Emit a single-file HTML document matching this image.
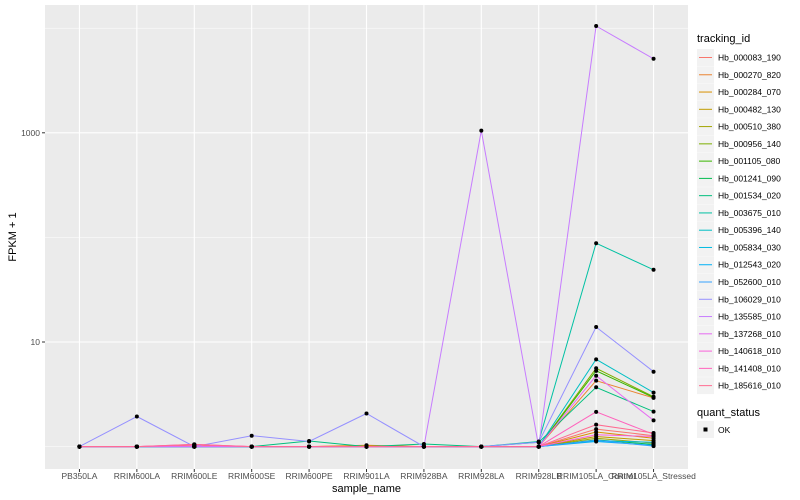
<!DOCTYPE html>
<html><head><meta charset="utf-8"><style>
body{margin:0;background:#fff;}
svg{display:block;font-family:"Liberation Sans",sans-serif;}
</style></head><body>
<svg id="chart" width="800" height="500"></svg>
<script>
const categories=["PB350LA","RRIM600LA","RRIM600LE","RRIM600SE","RRIM600PE","RRIM901LA","RRIM928BA","RRIM928LA","RRIM928LB","RRIM105LA_Control","RRIM105LA_Stressed"];
const seriesNames=["Hb_000083_190","Hb_000270_820","Hb_000284_070","Hb_000482_130","Hb_000510_380","Hb_000956_140","Hb_001105_080","Hb_001241_090","Hb_001534_020","Hb_003675_010","Hb_005396_140","Hb_005834_030","Hb_012543_020","Hb_052600_010","Hb_106029_010","Hb_135585_010","Hb_137268_010","Hb_140618_010","Hb_141408_010","Hb_185616_010"];
const seriesColors=["#F8766D","#EA8331","#D89000","#C09B00","#A3A500","#7CAE00","#39B600","#00BB4E","#00BF7D","#00C1A3","#00BFC4","#00BAE0","#00B0F6","#35A2FF","#9590FF","#C77CFF","#E76BF3","#FA62DB","#FF62BC","#FF6C91"];
const values=[
[1,1,1.03,1,1,1,1,1,1,1.47,1.27],
[1,1,1,1,1,1.03,1,1,1,4.27,2.92],
[1,1,1,1,1,1.02,1,1,1,1.38,1.2],
[1,1,1,1,1,1,1,1,1,1.25,1.14],
[1,1,1,1,1,1,1,1,1,1.2,1.08],
[1,1,1,1,1,1,1,1,1,5.61,3.0],
[1,1,1,1,1,1,1,1,1,5.3,2.95],
[1,1,1,1,1,1,1,1,1,1.16,1.05],
[1,1,1,1,1.13,1,1.06,1,1.1,3.69,2.16],
[1,1,1,1,1,1,1,1,1.12,88,49],
[1,1,1,1,1,1,1,1,1,6.83,3.28],
[1,1,1,1,1,1,1,1,1,1.14,1.1],
[1,1,1,1,1,1,1,1,1,1.12,1.03],
[1,1,1,1,1,1,1,1,1,1.15,1.01],
[1,1.94,1,1.27,1.12,2.07,1,1,1.1,13.9,5.2],
[1,1,1,1,1,1,1,1050,1,10500,5100],
[1,1,1,1,1,1,1,1,1,4.76,1.78],
[1,1,1.05,1,1,1,1,1,1,1.3,1.25],
[1,1,1.04,1,1,1,1,1,1,2.15,1.31],
[1,1,1.05,1,1,1,1,1,1,1.62,1.35]
];
const yMajor=[10,1000];
const yMinor=[1,100,10000];

const NS="http://www.w3.org/2000/svg";
const svg=document.getElementById('chart');
function mk(t,a,p){const e=document.createElementNS(NS,t);for(const k in a)e.setAttribute(k,a[k]);(p||svg).appendChild(e);return e;}
const PL=45,PR=688,PT=5,PB=469;
const step=(PR-PL)/(categories.length-1+1.2);
function xs(i){return PL+step*0.6+i*step;}
function ys(v){return 342-(Math.log10(v)-1)*104.6;}

const panel=mk('rect',{x:PL,y:PT,width:PR-PL,height:PB-PT,fill:'#EBEBEB'});


yMinor.forEach(v=>{const l=mk('line',{x1:PL,x2:PR,y1:ys(v),y2:ys(v),stroke:'#fff','stroke-width':0.5});

});
yMajor.forEach(v=>{const l=mk('line',{x1:PL,x2:PR,y1:ys(v),y2:ys(v),stroke:'#fff','stroke-width':1.1});


const t=mk('line',{x1:PL-3,x2:PL,y1:ys(v),y2:ys(v),stroke:'#333','stroke-width':1});


const tx=mk('text',{x:PL-5,y:ys(v)+3,'text-anchor':'end','font-size':8.5,fill:'#4d4d4d'});tx.textContent=v;

});
categories.forEach((c,i)=>{const l=mk('line',{x1:xs(i),x2:xs(i),y1:PT,y2:PB,stroke:'#fff','stroke-width':1.1});


const t=mk('line',{x1:xs(i),x2:xs(i),y1:PB,y2:PB+3,stroke:'#333','stroke-width':1});


const tx=mk('text',{x:xs(i),y:PB+10,'text-anchor':'middle','font-size':8.5,fill:'#4d4d4d'});tx.textContent=c;

});
values.forEach((s,k)=>{const pts=s.map((v,i)=>xs(i).toFixed(1)+','+ys(v).toFixed(1)).join(' ');
const pl=mk('polyline',{points:pts,fill:'none',stroke:seriesColors[k],'stroke-width':1});

});
values.forEach((s,k)=>{s.forEach((v,i)=>{const c=mk('circle',{cx:xs(i),cy:ys(v),r:2,fill:'#000'});

});});
const xt=mk('text',{x:(PL+PR)/2,y:492,'text-anchor':'middle','font-size':11,fill:'#000'});xt.textContent='sample_name';


const yt=mk('text',{x:0,y:0,'text-anchor':'middle','font-size':11,fill:'#000',transform:'translate(16,237) rotate(-90)'});yt.textContent='FPKM + 1';


// legend
const lt=mk('text',{x:697,y:42,'font-size':11,fill:'#000'});lt.textContent='tracking_id';


seriesNames.forEach((n,k)=>{const y=49+k*17.27;
const g=mk('g',{});


mk('rect',{x:697,y:y,width:17,height:17,fill:'#F2F2F2'},g);
mk('line',{x1:699,x2:712,y1:y+8.5,y2:y+8.5,stroke:seriesColors[k],'stroke-width':1},g);
const t=mk('text',{x:718,y:y+11.5,'font-size':8.5,fill:'#000'},g);t.textContent=n;});
const qt=mk('text',{x:697,y:416,'font-size':11,fill:'#000'});qt.textContent='quant_status';


const g2=mk('g',{});


mk('rect',{x:697,y:421,width:17,height:17,fill:'#F2F2F2'},g2);
mk('rect',{x:703.5,y:427.5,width:4,height:4,fill:'#000'},g2);
const ok=mk('text',{x:718,y:433,'font-size':8.5,fill:'#000'},g2);ok.textContent='OK';
</script>
</body></html>
